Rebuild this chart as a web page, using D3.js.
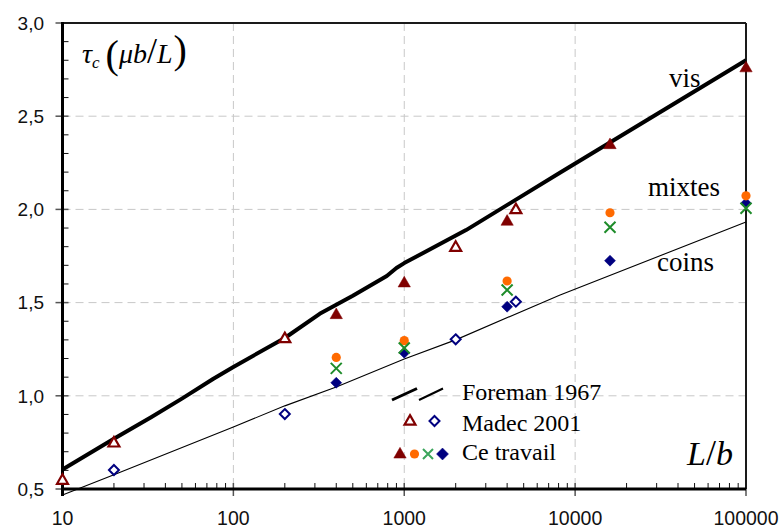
<!DOCTYPE html>
<html>
<head>
<meta charset="utf-8">
<script src="https://cdn.jsdelivr.net/npm/d3@7"></script>
<style>
  html, body { margin: 0; padding: 0; background: #fff; }
  svg { display: block; }
</style>
</head>
<body>
<svg id="chart" width="781" height="530"></svg>
<script>
// Critical stress τc (in units of μb/L) versus L/b

// Axis ticks
const xTickValues = [10, 100, 1000, 10000, 100000];
const xTickLabels = ["10", "100", "1000", "10000", "100000"];
const yTickValues = [0.5, 1.0, 1.5, 2.0, 2.5, 3.0];
const yTickLabels = ["0,5", "1,0", "1,5", "2,0", "2,5", "3,0"];

// Foreman 1967 curves
const visL   = [10, 20, 33, 50, 76, 100, 200, 320, 500, 790, 900, 1000, 2300, 8100, 100000];
const visTau = [0.605, 0.77, 0.885, 0.985, 1.09, 1.155, 1.31, 1.44, 1.537, 1.643, 1.686, 1.712, 1.889, 2.195, 2.80];
const coinsL   = [10, 20, 100, 200, 400, 1000, 2000, 8100, 100000];
const coinsTau = [0.468, 0.577, 0.833, 0.946, 1.047, 1.197, 1.30, 1.54, 1.932];

// Madec 2001
const madecTriL   = [10, 20, 200, 2000, 4500];
const madecTriTau = [0.545, 0.745, 1.305, 1.795, 1.997];
const madecDiaL   = [20, 200, 2000, 4500];
const madecDiaTau = [0.602, 0.902, 1.303, 1.505];

// Ce travail
const workL        = [400, 1000, 4000, 16000, 100000];
const workVisTau   = [1.433, 1.603, 1.934, 2.345, 2.757];
const workCircTau  = [1.206, 1.296, 1.616, 1.982, 2.073];
const workCrossTau = [1.147, 1.256, 1.568, 1.904, 2.006];
const workCoinsTau = [1.070, 1.231, 1.478, 1.725, 2.033];

const colRed = "#800000", colBlue = "#000080", colOrange = "#FF6A00", colGreen = "#1E8C2A";
const serif = "'Liberation Serif', 'Times New Roman', serif";
const sans = "'Liberation Sans', Arial, sans-serif";

const svg = d3.select("#chart");
const x = d3.scaleLog().domain([10, 100000]).range([62.5, 746]);
const y = d3.scaleLinear().domain([0.5, 3.0]).range([489, 23]);

// Grid
const grid = svg.append("g").attr("stroke", "#c8c8c8").attr("stroke-width", 1).attr("stroke-dasharray", "8,5");
[100, 1000, 10000].forEach(v => {
  grid.append("line").attr("x1", x(v)).attr("x2", x(v)).attr("y1", y(3)).attr("y2", y(0.5));
});
[1.0, 1.5, 2.0, 2.5].forEach(v => {
  grid.append("line").attr("x1", x(10)).attr("x2", x(100000)).attr("y1", y(v)).attr("y2", y(v));
});

// Minor ticks (inside)
const minor = svg.append("g").attr("stroke", "#111").attr("stroke-width", 1);
for (let d = 10; d < 100000; d *= 10) {
  for (let k = 2; k <= 9; k++) {
    const v = d * k;
    minor.append("line").attr("x1", x(v)).attr("x2", x(v)).attr("y1", y(0.5)).attr("y2", y(0.5) - 6);
  }
}
d3.range(0.6, 3.0, 0.1).forEach(v => {
  if (Math.abs(v * 2 - Math.round(v * 2)) > 1e-6) {
    minor.append("line").attr("x1", x(10)).attr("x2", x(10) + 6).attr("y1", y(v)).attr("y2", y(v));
  }
});

// Major ticks (crossing)
const major = svg.append("g").attr("stroke", "#555").attr("stroke-width", 1.5);
xTickValues.forEach(v => {
  major.append("line").attr("x1", x(v)).attr("x2", x(v)).attr("y1", y(0.5) - 6).attr("y2", y(0.5) + 7);
});
yTickValues.forEach(v => {
  major.append("line").attr("x1", x(10) - 7).attr("x2", x(10) + 6).attr("y1", y(v)).attr("y2", y(v));
});

// Frame
svg.append("line").attr("x1", x(10)).attr("x2", x(100000)).attr("y1", y(3)).attr("y2", y(3))
  .attr("stroke", "#1a1a1a").attr("stroke-width", 2);
svg.append("line").attr("x1", x(100000)).attr("x2", x(100000)).attr("y1", y(3)).attr("y2", y(0.5))
  .attr("stroke", "#1a1a1a").attr("stroke-width", 2);
svg.append("line").attr("x1", x(10)).attr("x2", x(100000)).attr("y1", y(0.5)).attr("y2", y(0.5))
  .attr("stroke", "#000").attr("stroke-width", 3);
svg.append("line").attr("x1", x(10)).attr("x2", x(10)).attr("y1", y(3) - 1).attr("y2", y(0.5) + 7)
  .attr("stroke", "#000").attr("stroke-width", 3);

// Tick labels
svg.append("g").selectAll("text").data(xTickValues).join("text")
  .attr("x", d => x(d)).attr("y", 525).attr("text-anchor", "middle")
  .attr("font-family", sans).attr("font-size", 19.5).attr("fill", "#111")
  .text((d, i) => xTickLabels[i]);
svg.append("g").selectAll("text").data(yTickValues).join("text")
  .attr("x", 44).attr("y", d => y(d)).attr("dy", "0.36em").attr("text-anchor", "end")
  .attr("font-family", sans).attr("font-size", 19).attr("fill", "#111")
  .text((d, i) => yTickLabels[i]);

// Foreman curves
const line = d3.line().x(d => x(d[0])).y(d => y(d[1]));
svg.append("path").datum(coinsL.map((l, i) => [l, coinsTau[i]]))
  .attr("d", line).attr("fill", "none").attr("stroke", "#000").attr("stroke-width", 1.1);
svg.append("path").datum(visL.map((l, i) => [l, visTau[i]]))
  .attr("d", line).attr("fill", "none").attr("stroke", "#000").attr("stroke-width", 4)
  .attr("stroke-linejoin", "round");

// Marker helpers
const triPath = d3.symbol().type(d3.symbolTriangle);
function tri(g, cx, cy, size, filled) {
  g.append("path").attr("d", triPath.size(size)()).attr("transform", `translate(${cx},${cy})`)
    .attr("fill", filled ? colRed : "#fff").attr("stroke", colRed)
    .attr("stroke-width", filled ? 0.5 : 2.2);
}
function diamond(g, cx, cy, half, filled) {
  g.append("path").attr("d", `M0,${-half}L${half},0L0,${half}L${-half},0Z`)
    .attr("transform", `translate(${cx},${cy})`)
    .attr("fill", filled ? colBlue : "#fff").attr("stroke", colBlue)
    .attr("stroke-width", filled ? 0.5 : 2);
}
function circ(g, cx, cy, r, color) {
  g.append("circle").attr("cx", cx).attr("cy", cy).attr("r", r).attr("fill", color);
}
function cross(g, cx, cy, h, color) {
  g.append("path").attr("d", `M${-h},${-h}L${h},${h}M${-h},${h}L${h},${-h}`)
    .attr("transform", `translate(${cx},${cy})`)
    .attr("stroke", color).attr("stroke-width", 2).attr("fill", "none");
}

const marks = svg.append("g");
madecTriL.forEach((l, i) => tri(marks, x(l), y(madecTriTau[i]), 52, false));
madecDiaL.forEach((l, i) => diamond(marks, x(l), y(madecDiaTau[i]), 5, false));
workL.forEach((l, i) => tri(marks, x(l), y(workVisTau[i]), 66, true));
workL.forEach((l, i) => diamond(marks, x(l), y(workCoinsTau[i]), 5.5, true));
workL.forEach((l, i) => circ(marks, x(l), y(workCircTau[i]), 4.6, colOrange));
workL.forEach((l, i) => cross(marks, x(l), y(workCrossTau[i]), 5.5, colGreen));

// Curve labels
const labels = [["vis", 669, 87], ["mixtes", 648, 196], ["coins", 657, 271]];
svg.append("g").selectAll("text").data(labels).join("text")
  .attr("x", d => d[1]).attr("y", d => d[2])
  .attr("font-family", serif).attr("font-size", 27).attr("fill", "#000")
  .text(d => d[0]);

// Legend
const leg = svg.append("g");
leg.append("line").attr("x1", 392).attr("y1", 400).attr("x2", 417).attr("y2", 388.5)
  .attr("stroke", "#000").attr("stroke-width", 3);
leg.append("line").attr("x1", 419).attr("y1", 400).attr("x2", 443).attr("y2", 388.5)
  .attr("stroke", "#000").attr("stroke-width", 2);
tri(leg, 410, 421.5, 52, false);
diamond(leg, 434.5, 421, 5, false);
tri(leg, 400, 454.5, 66, true);
circ(leg, 414.5, 454, 4.6, colOrange);
cross(leg, 428, 454, 5, "#3BA55C");
diamond(leg, 442.5, 454, 6, true);
const legendNames = ["Foreman 1967", "Madec 2001", "Ce travail"];
const legendBase = [400, 431, 460];
leg.selectAll("text").data(legendNames).join("text")
  .attr("x", 462).attr("y", (d, i) => legendBase[i])
  .attr("font-family", serif).attr("font-size", 24).attr("fill", "#000")
  .text(d => d);

// Axis titles
const yt = svg.append("text").attr("x", 82).attr("y", 63)
  .attr("font-family", serif).attr("fill", "#000");
yt.append("tspan").attr("font-style", "italic").attr("font-size", 28).text("τ");
yt.append("tspan").attr("font-style", "italic").attr("font-size", 17).attr("dy", 5).text("c");
yt.append("tspan").attr("font-size", 40).attr("dx", 6).attr("dy", 0).text("(");
yt.append("tspan").attr("font-style", "italic").attr("font-size", 28).attr("dy", -5).text("μb");
yt.append("tspan").attr("font-size", 36).text("/");
yt.append("tspan").attr("font-style", "italic").attr("font-size", 28).text("L");
yt.append("tspan").attr("font-size", 40).attr("dx", 1).attr("dy", 0).text(")");

const xt = svg.append("text").attr("x", 687).attr("y", 465)
  .attr("font-family", serif).attr("fill", "#000");
xt.append("tspan").attr("font-style", "italic").attr("font-size", 34).text("L");
xt.append("tspan").attr("font-size", 36).text("/");
xt.append("tspan").attr("font-style", "italic").attr("font-size", 34).text("b");
</script>
</body>
</html>
